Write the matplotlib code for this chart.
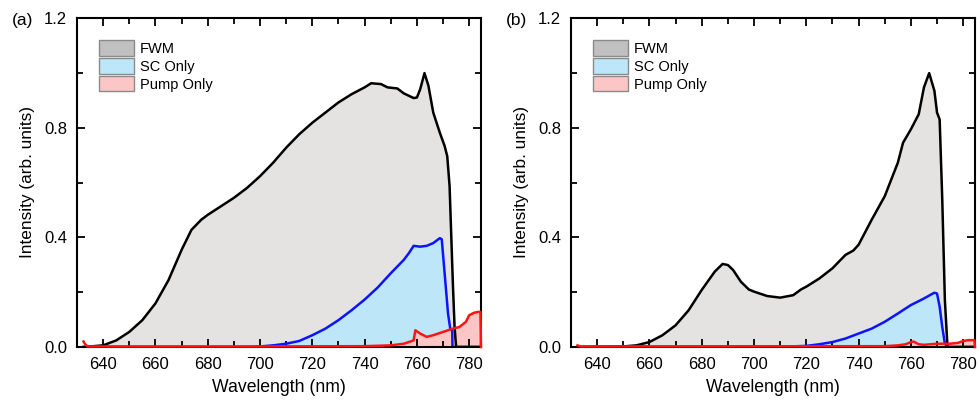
import numpy as np
import matplotlib.pyplot as plt
from matplotlib.patches import Patch

plt.rcParams['font.family'] = ['Liberation Sans', 'DejaVu Sans']

# Panel (a) data
wl_fwm_a = [632.5, 640, 645, 650, 655, 660, 665, 670, 673.75, 677.5, 680, 685, 690, 695,
            700, 705, 710, 715, 720, 725, 730, 735, 740, 742.5, 746.25, 748.75, 752.5,
            755, 758.75, 760, 761.25, 762.9, 764.4, 766.25, 768.75, 770.6, 771.6, 772.5,
            773.1, 773.75, 774.4, 775, 784.5]
fwm_a = [0.0, 0.006, 0.024, 0.055, 0.098, 0.159, 0.244, 0.354, 0.427, 0.464, 0.482, 0.513,
         0.544, 0.58, 0.623, 0.672, 0.727, 0.776, 0.818, 0.855, 0.892, 0.922, 0.947, 0.962,
         0.959, 0.947, 0.943, 0.925, 0.908, 0.91, 0.94, 0.999, 0.953, 0.855, 0.782, 0.733,
         0.696, 0.586, 0.415, 0.232, 0.073, 0.0, 0.0]

wl_sc_a = [632.5, 695, 700, 705, 710, 715, 720, 725, 730, 735, 740, 745, 750, 755, 756.9,
           758.75, 761.25, 763.75, 766.25, 768.75, 769.5, 770.6, 771.9, 772.75, 773.5,
           773.6, 784.5]
sc_a = [0.0, 0.0, 0.002, 0.006, 0.012, 0.022, 0.043, 0.067, 0.098, 0.134, 0.173, 0.217,
        0.269, 0.318, 0.342, 0.369, 0.366, 0.369, 0.379, 0.397, 0.393, 0.269, 0.122, 0.067,
        0.062, 0.0, 0.0]

wl_pump_a = [632.5, 633.0, 634.0, 700, 740, 750, 755, 758.75, 759.4, 761.25, 763.75,
             766.25, 770, 773.75, 776.25, 778.75, 780, 781.9, 783.4, 784.3, 784.5]
pump_a = [0.02, 0.012, 0.002, 0.002, 0.003, 0.006, 0.012, 0.024, 0.061, 0.049, 0.037,
          0.043, 0.055, 0.067, 0.073, 0.092, 0.116, 0.125, 0.128, 0.128, 0.0]

# Panel (b) data
wl_fwm_b = [632.5, 650, 655, 660, 665, 670, 675, 680, 685, 688, 690, 692, 695, 698, 700,
            705, 710, 715, 718, 720, 725, 730, 735, 738, 740, 745, 750, 755, 757, 760, 763,
            765, 767, 769, 770, 771, 772, 773, 774, 784.5]
fwm_b = [0.0, 0.002, 0.006, 0.018, 0.043, 0.079, 0.134, 0.208, 0.275, 0.303, 0.299, 0.281,
         0.238, 0.21, 0.202, 0.186, 0.18, 0.189, 0.21, 0.22, 0.25, 0.287, 0.336, 0.352,
         0.373, 0.464, 0.55, 0.672, 0.745, 0.794, 0.849, 0.947, 0.999, 0.934, 0.855, 0.83,
         0.538, 0.171, 0.0, 0.0]

wl_sc_b = [632.5, 710, 720, 725, 730, 735, 740, 745, 750, 755, 760, 765, 768, 769, 770,
           771, 772, 773, 774, 784.5]
sc_b = [0.0, 0.001, 0.004, 0.01, 0.018, 0.031, 0.049, 0.067, 0.092, 0.122, 0.153, 0.177,
        0.193, 0.198, 0.195, 0.147, 0.073, 0.012, 0.0, 0.0]

wl_pump_b = [632.5, 633.0, 634.0, 750, 755, 758, 760, 761, 763, 765, 770, 775, 778, 780,
             782, 784.3, 784.5]
pump_b = [0.006, 0.004, 0.002, 0.003, 0.006, 0.01, 0.018, 0.02, 0.01, 0.008, 0.012, 0.012,
          0.015, 0.022, 0.025, 0.025, 0.0]

panels = [
    ('(a)', wl_fwm_a, fwm_a, wl_sc_a, sc_a, wl_pump_a, pump_a),
    ('(b)', wl_fwm_b, fwm_b, wl_sc_b, sc_b, wl_pump_b, pump_b),
]

fig = plt.figure(figsize=(9.77, 4.0), dpi=100)
lefts = [0.0788, 0.5844]

for left, (tag, wf, f, ws, s, wp, p) in zip(lefts, panels):
    ax = fig.add_axes([left, 0.1325, 0.4135, 0.8225])
    ax.fill_between(wf, f, color='#e5e3e1', lw=0)
    ax.plot(wf, f, color='black', lw=1.8)
    ax.fill_between(ws, s, color='#bde6f9', lw=0)
    ax.plot(ws, s, color='#0a14ff', lw=1.8)
    ax.fill_between(wp, p, color='#fcc6c6', lw=0)
    ax.plot(wp, p, color='#ff1414', lw=1.8, zorder=3, clip_on=False)

    ax.set_xlim(632.5, 784.5)
    ax.set_ylim(0, 1.2)
    ax.set_xticks(np.arange(640, 781, 20))
    ax.set_xticks(np.arange(630, 785, 10), minor=True)
    ax.set_yticks([0.0, 0.4, 0.8, 1.2])
    ax.set_yticklabels(['0.0', '0.4', '0.8', ''])
    ax.set_yticks([0.2, 0.6, 1.0], minor=True)
    ax.tick_params(which='both', direction='in', top=True, right=True, width=1.3,
                   labelsize=12, pad=7)
    ax.tick_params(which='major', length=6)
    ax.tick_params(which='minor', length=4)
    for sp in ax.spines.values():
        sp.set_linewidth(1.5)
    ax.set_xlabel('Wavelength (nm)', fontsize=12.7, labelpad=5)
    ax.set_ylabel('Intensity (arb. units)', fontsize=12.4, labelpad=7)

    handles = [Patch(facecolor='#c0c0c0', edgecolor='#8a8a8a', label='FWM'),
               Patch(facecolor='#bde6f9', edgecolor='#8a8a8a', label='SC Only'),
               Patch(facecolor='#fcc6c6', edgecolor='#8a8a8a', label='Pump Only')]
    ax.legend(handles=handles, loc='upper left', bbox_to_anchor=(0.04, 0.95),
              frameon=False, fontsize=10.5, handlelength=2.4, handleheight=1.25,
              handletextpad=0.4, labelspacing=0.15, borderaxespad=0)

    # panel tag and the top y label
    x0 = left * 977
    fig.text((x0 - 65) / 977, 1 - 20 / 400, tag, fontsize=12.5, va='center', ha='left')
    fig.text((x0 - 10) / 977, 1 - 20 / 400, '1.2', fontsize=12, va='center', ha='right')

fig.savefig('out.png', dpi=100)
